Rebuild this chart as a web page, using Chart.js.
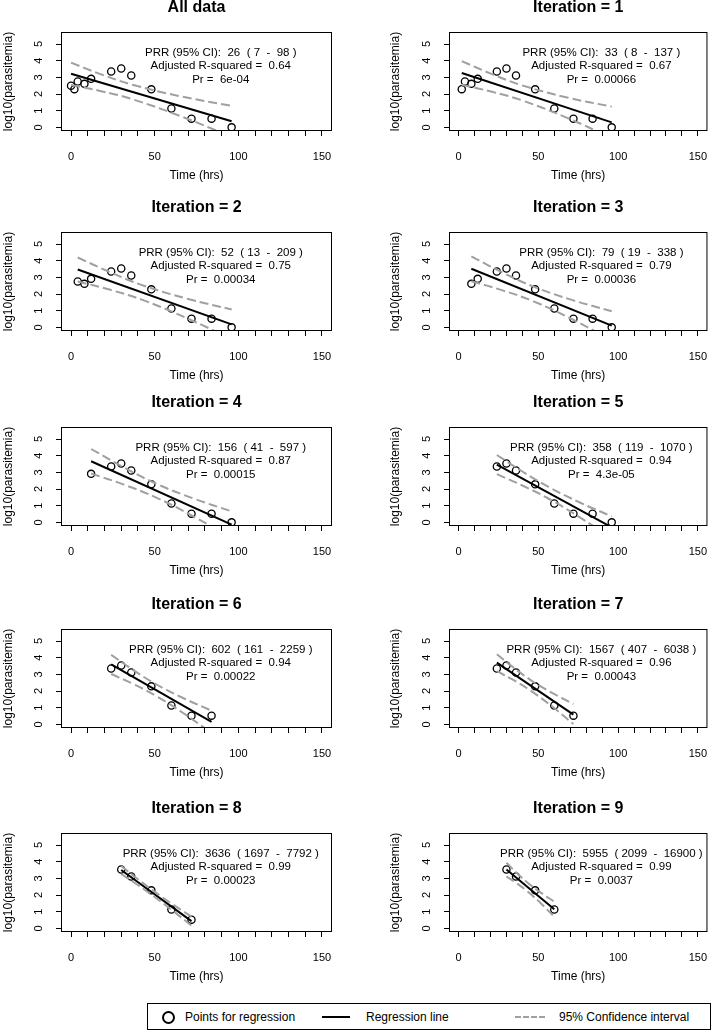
<!DOCTYPE html>
<html>
<head>
<meta charset="utf-8">
<script src="https://cdn.jsdelivr.net/npm/chart.js@4.4.1/dist/chart.umd.min.js"></script>
<style>
  body { margin: 0; background: #fff; }
  #page { position: relative; width: 722px; height: 1034px; overflow: hidden; background: #fff;
          font-family: "Liberation Sans", Arial, sans-serif; }
  .panel { position: absolute; }
  #legend { position: absolute; left: 147px; top: 1003px; width: 564px; height: 27px;
            border: 1px solid #000; box-sizing: border-box; font-size: 12px; color: #000; }
  #legend span { position: absolute; top: 6px; white-space: nowrap; }
  #legend .ring { position: absolute; left: 14px; top: 7px; width: 9px; height: 9px;
                  border: 2px solid #000; border-radius: 50%; }
  #legend .solid { position: absolute; left: 174px; top: 12px; width: 28px; border-top: 2px solid #000; }
  #legend .dash { position: absolute; left: 367px; top: 12px; width: 30px; border-top: 2px dashed #a0a0a0; }
</style>
</head>
<body>
<div id="page">
  <div id="legend">
    <div class="ring"></div><span style="left:37px">Points for regression</span>
    <div class="solid"></div><span style="left:218px">Regression line</span>
    <div class="dash"></div><span style="left:411px">95% Confidence interval</span>
  </div>
</div>
<script>
// observations (all panels draw a subset of these)
const times = [0, 2, 4, 8, 12, 24, 30, 36, 48, 60, 72, 84, 96];
const logParasitemia = [2.5, 2.29, 2.75, 2.61, 2.91, 3.35, 3.53, 3.11, 2.28, 1.13, 0.52, 0.52, 0.0];

const panelTitles = ['All data', 'Iteration = 1', 'Iteration = 2', 'Iteration = 3', 'Iteration = 4',
  'Iteration = 5', 'Iteration = 6', 'Iteration = 7', 'Iteration = 8', 'Iteration = 9'];
const firstPoint = [0, 1, 2, 3, 4, 5, 5, 5, 6, 6];
const lastPoint = [12, 12, 12, 12, 12, 12, 11, 10, 10, 9];

// regression line ends
const fitX = [[0, 96], [2, 96], [4, 96], [8, 96], [12, 96], [24, 96], [24, 84], [24, 72], [30, 72], [30, 60]];
const fitY = [[3.21, 0.36], [3.26, 0.30], [3.47, 0.18], [3.515, 0.10], [3.665, -0.14],
  [3.465, -0.30], [3.595, 0.15], [3.70, 0.58], [3.50, 0.43], [3.525, 1.15]];

// 95% confidence band, sampled along each panel
const ciX = [
  [0, 18, 36.6, 66, 96], [2, 21, 39.7, 68, 96], [4, 23.5, 43.1, 70, 96], [8, 27.5, 47, 71.5, 96],
  [12, 31.7, 51.3, 73.7, 96], [24, 40, 56.3, 76, 96], [24, 37, 50.6, 67, 84], [24, 34, 45, 58, 72],
  [30, 39, 49.2, 60, 72], [30, 37, 43.5, 52, 60]];
const ciUpper = [
  [3.88, 3.18, 2.56, 1.85, 1.29], [3.97, 3.19, 2.52, 1.79, 1.24], [4.19, 3.30, 2.51, 1.70, 1.07],
  [4.26, 3.29, 2.44, 1.63, 0.97], [4.40, 3.29, 2.30, 1.41, 0.66], [4.04, 3.05, 2.13, 1.19, 0.36],
  [4.17, 3.27, 2.42, 1.58, 0.82], [4.21, 3.44, 2.67, 1.92, 1.22], [3.74, 3.02, 2.25, 1.49, 0.70],
  [3.93, 3.27, 2.72, 2.11, 1.61]];
const ciLower = [
  [2.54, 2.17, 1.69, 0.65, -0.57], [2.55, 2.13, 1.62, 0.57, -0.64], [2.75, 2.25, 1.63, 0.52, -0.71],
  [2.77, 2.22, 1.56, 0.47, -0.77], [2.93, 2.26, 1.47, 0.33, -0.94], [2.89, 2.21, 1.43, 0.30, -0.96],
  [3.02, 2.43, 1.72, 0.68, -0.52], [3.19, 2.68, 2.03, 1.12, 0.02], [3.26, 2.66, 1.94, 1.12, 0.16],
  [3.12, 2.67, 2.19, 1.46, 0.69]];

const prrValues = ['26  ( 7  -  98 )', '33  ( 8  -  137 )', '52  ( 13  -  209 )', '79  ( 19  -  338 )',
  '156  ( 41  -  597 )', '358  ( 119  -  1070 )', '602  ( 161  -  2259 )', '1567  ( 407  -  6038 )',
  '3636  ( 1697  -  7792 )', '5955  ( 2099  -  16900 )'];
const adjR2 = ['0.64', '0.67', '0.75', '0.79', '0.87', '0.94', '0.94', '0.96', '0.99', '0.99'];
const prValues = ['6e-04', '0.00066', '0.00034', '0.00036', '0.00015', '4.3e-05', '0.00022', '0.00043', '0.00023', '0.0037'];

const xTicks = [0, 10, 20, 30, 40, 50, 60, 70, 80, 90, 100, 110, 120, 130, 140, 150];
const yTicks = [0, 1, 2, 3, 4, 5];

const FONT = '"Liberation Sans", Arial, sans-serif';
Chart.defaults.font.family = FONT;
Chart.defaults.color = '#000';

const rowTop = [-2, 198, 393, 595, 799];

// box round the plot region + the three lines of stats
const panelDecor = {
  id: 'panelDecor',
  afterDraw(chart, args, opts) {
    const { ctx, chartArea: a, scales: { x, y } } = chart;
    ctx.save();
    ctx.strokeStyle = '#000';
    ctx.lineWidth = 1;
    ctx.strokeRect(a.left + 0.5, a.top + 0.5, a.right - a.left - 1, a.bottom - a.top - 1);
    ctx.font = '11.5px ' + FONT;
    ctx.fillStyle = '#000';
    ctx.textAlign = 'center';
    ctx.textBaseline = 'middle';
    const cx = x.getPixelForValue(89.5);
    const rows = [4.5, 3.68, 2.86];
    opts.lines.forEach((t, k) => ctx.fillText(t, cx, y.getPixelForValue(rows[k])));
    ctx.restore();
  }
};

const page = document.getElementById('page');

panelTitles.forEach((title, i) => {
  const col = i % 2, row = Math.floor(i / 2);
  const yAxisWidth = col === 0 ? 61 : 88;
  const canvas = document.createElement('canvas');
  canvas.className = 'panel';
  canvas.width = 361;
  canvas.height = 185;
  canvas.style.left = (col * 361) + 'px';
  canvas.style.top = rowTop[row] + 'px';
  page.appendChild(canvas);

  const pts = [];
  for (let k = firstPoint[i]; k <= lastPoint[i]; k++) pts.push({ x: times[k], y: logParasitemia[k] });

  const band = arr => ciX[i].map((t, k) => ({ x: t, y: arr[i][k] }));

  new Chart(canvas, {
    type: 'scatter',
    data: {
      datasets: [
        { data: band(ciUpper), showLine: true, borderColor: '#a0a0a0', borderWidth: 2, borderDash: [9, 4],
          pointRadius: 0, tension: 0.4, fill: false },
        { data: band(ciLower), showLine: true, borderColor: '#a0a0a0', borderWidth: 2, borderDash: [9, 4],
          pointRadius: 0, tension: 0.4, fill: false },
        { data: fitX[i].map((t, k) => ({ x: t, y: fitY[i][k] })), showLine: true, borderColor: '#000',
          borderWidth: 2, pointRadius: 0 },
        { data: pts, pointRadius: 3.6, borderColor: '#000', borderWidth: 1.3,
          backgroundColor: 'rgba(0,0,0,0)', pointHoverRadius: 3.6 }
      ]
    },
    options: {
      responsive: false,
      animation: false,
      devicePixelRatio: 1,
      events: [],
      layout: { autoPadding: false, padding: { left: 0, right: col === 0 ? 29 : 2, top: 0, bottom: 0 } },
      plugins: {
        legend: { display: false },
        tooltip: { enabled: false },
        title: {
          display: true, text: title, fullSize: false, color: '#000',
          font: { size: 16, weight: 'bold' }, padding: { top: 0, bottom: 14.8 }
        },
        panelDecor: {
          lines: ['PRR (95% CI):  ' + prrValues[i], 'Adjusted R-squared =  ' + adjR2[i], 'Pr =  ' + prValues[i]]
        }
      },
      scales: {
        x: {
          type: 'linear', min: -6, max: 156,
          afterBuildTicks: s => { s.ticks = xTicks.map(v => ({ value: v })); },
          afterFit: s => { s.height = 52; },
          border: { display: false },
          grid: { drawOnChartArea: false, drawTicks: true, tickLength: 5, color: '#000', lineWidth: 1 },
          ticks: {
            autoSkip: false, maxRotation: 0, padding: 14.4, color: '#000', font: { size: 11 },
            callback: v => (v % 50 === 0 ? String(v) : '')
          },
          title: { display: true, text: 'Time (hrs)', color: '#000', font: { size: 12 }, padding: { top: 0, bottom: 0.5 } }
        },
        y: {
          type: 'linear', min: -0.22, max: 5.72,
          afterBuildTicks: s => { s.ticks = yTicks.map(v => ({ value: v })); },
          afterFit: s => { s.width = yAxisWidth; },
          border: { display: false },
          grid: { drawOnChartArea: false, drawTicks: true, tickLength: 5, color: '#000', lineWidth: 1 },
          ticks: { minRotation: 90, maxRotation: 90, crossAlign: 'center', padding: 13.9, color: '#000', font: { size: 11 } },
          title: {
            display: true, text: 'log10(parasitemia)', color: '#000', font: { size: 12 },
            padding: { top: col === 0 ? 1.1 : 27.8, bottom: 0 }
          }
        }
      }
    },
    plugins: [panelDecor]
  });
});
</script>
</body>
</html>
